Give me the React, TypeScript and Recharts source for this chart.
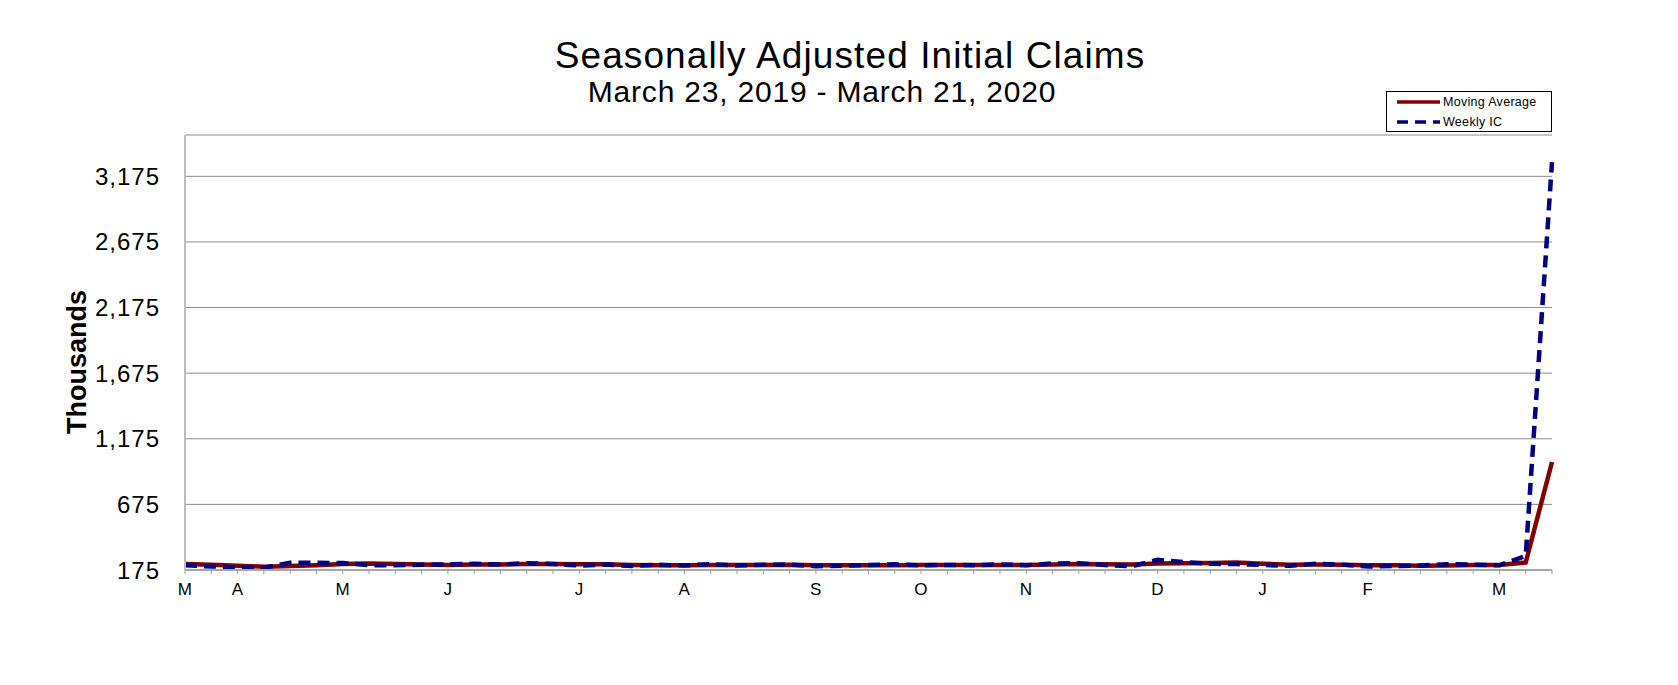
import React from 'react';
import { LineChart, Line, XAxis, YAxis, CartesianGrid, Legend } from 'recharts';

// week ending dates, March 23, 2019 - March 21, 2020
const weekEnding = [
  '3/23/2019', '3/30/2019', '4/6/2019', '4/13/2019', '4/20/2019', '4/27/2019',
  '5/4/2019', '5/11/2019', '5/18/2019', '5/25/2019', '6/1/2019', '6/8/2019',
  '6/15/2019', '6/22/2019', '6/29/2019', '7/6/2019', '7/13/2019', '7/20/2019',
  '7/27/2019', '8/3/2019', '8/10/2019', '8/17/2019', '8/24/2019', '8/31/2019',
  '9/7/2019', '9/14/2019', '9/21/2019', '9/28/2019', '10/5/2019', '10/12/2019',
  '10/19/2019', '10/26/2019', '11/2/2019', '11/9/2019', '11/16/2019', '11/23/2019',
  '11/30/2019', '12/7/2019', '12/14/2019', '12/21/2019', '12/28/2019', '1/4/2020',
  '1/11/2020', '1/18/2020', '1/25/2020', '2/1/2020', '2/8/2020', '2/15/2020',
  '2/22/2020', '2/29/2020', '3/7/2020', '3/14/2020', '3/21/2020',
];

// thousands
const weeklyIC = [
  211, 202, 196, 192, 230, 230, 228, 212, 211, 215, 218, 222,
  216, 227, 221, 209, 216, 206, 215, 209, 220, 209, 215, 217,
  204, 208, 213, 219, 210, 214, 212, 218, 211, 225, 227, 213,
  203, 252, 235, 222, 220, 214, 207, 223, 216, 201, 205, 210,
  219, 216, 211, 282, 3283,
];

const movingAverage = [
  221, 215.75, 207.5, 200.25, 205, 212, 220, 225, 220.25, 216.5, 214, 216.5,
  217.75, 220.75, 221.5, 218.25, 218.25, 213, 211.5, 211.5, 212.5, 213.25, 213.25, 215.25,
  211.25, 211, 210.5, 211, 212.5, 214, 213.75, 213.5, 213.75, 216.5, 220.25, 219,
  217, 223.75, 225.75, 228, 232.25, 222.75, 215.75, 216, 215, 211.75, 211.25, 208,
  208.75, 212.5, 214, 232, 998,
];

const yTicks = [175, 675, 1175, 1675, 2175, 2675, 3175];
const monthInitials = ['J', 'F', 'M', 'A', 'M', 'J', 'J', 'A', 'S', 'O', 'N', 'D'];

const data = weekEnding.map((week, i) => ({ week, ma: movingAverage[i], ic: weeklyIC[i] }));

const FONT = '"Liberation Sans", Arial, sans-serif';
const monthOf = (d: string) => parseInt(d.split('/')[0], 10);

const MonthTick = (props: any) => {
  const { x, y, payload } = props;
  const i = weekEnding.indexOf(payload.value);
  const first = i === 0 || monthOf(weekEnding[i]) !== monthOf(weekEnding[i - 1]);
  if (!first) return null;
  return (
    <text x={x} y={y} dy={19} textAnchor="middle" fontFamily={FONT} fontSize={17} fill="#000" letterSpacing={0.5}>
      {monthInitials[monthOf(payload.value) - 1]}
    </text>
  );
};

const LegendBox = (props: any) => {
  const items = props.payload || [];
  return (
    <svg width={166} height={41} style={{ display: 'block' }}>
      <rect x={0.5} y={0.5} width={165} height={40} fill="#fff" stroke="#000" strokeWidth={1} />
      {items.map((it: any, k: number) => (
        <g key={k}>
          <line
            x1={11}
            x2={54}
            y1={11 + k * 20}
            y2={11 + k * 20}
            stroke={it.color}
            strokeWidth={3.5}
            strokeDasharray={it.dataKey === 'ic' ? '11 7' : undefined}
          />
          <text x={57} y={15 + k * 20} fontFamily={FONT} fontSize={12.5} fill="#000" letterSpacing={0.3}>
            {it.value}
          </text>
        </g>
      ))}
    </svg>
  );
};

export default function App() {
  return (
    <div style={{ position: 'absolute', left: 0, top: 0, width: 1678, height: 685, background: '#fff' }}>
      <LineChart
        width={1678}
        height={685}
        data={data}
        margin={{ top: 135, right: 126, bottom: 85, left: 125 }}
      >
        <CartesianGrid vertical={false} stroke="#8c8c8c" strokeWidth={1} />
        <XAxis
          dataKey="week"
          height={30}
          interval={0}
          tick={<MonthTick />}
          tickSize={4}
          tickLine={{ stroke: '#9a9a9a' }}
          axisLine={{ stroke: '#a8a8a8', strokeWidth: 2 }}
        />
        <XAxis xAxisId="frame" orientation="top" dataKey="week" height={0} tick={false} tickLine={false} axisLine={{ stroke: '#c4c4c4', strokeWidth: 2 }} />
        <YAxis
          width={60}
          domain={[175, 3490]}
          ticks={yTicks}
          tickLine={false}
          tickSize={6}
          tickMargin={19}
          axisLine={{ stroke: '#bdbdbd', strokeWidth: 2 }}
          tickFormatter={(v: number) => v.toLocaleString('en-US')}
          tick={{ fontFamily: FONT, fontSize: 24, fill: '#000', letterSpacing: 1 }}
        />
        <YAxis yAxisId="frame" orientation="right" width={0} tick={false} tickLine={false} axisLine={{ stroke: '#c4c4c4', strokeWidth: 2 }} />
        <Legend
          verticalAlign="middle"
          align="center"
          content={<LegendBox />}
          wrapperStyle={{ top: 91, left: 1386, width: 166, height: 41 }}
        />
        <Line
          name="Moving Average"
          dataKey="ma"
          type="linear"
          stroke="#800000"
          strokeWidth={4.5}
          dot={false}
          activeDot={false}
          isAnimationActive={false}
        />
        <Line
          name="Weekly IC"
          dataKey="ic"
          type="linear"
          stroke="#000080"
          strokeWidth={4.5}
          strokeDasharray="12 7"
          dot={false}
          activeDot={false}
          isAnimationActive={false}
        />
      </LineChart>
      <svg width={1678} height={685} style={{ position: 'absolute', left: 0, top: 0, pointerEvents: 'none' }}>
        <text x={850} y={68} textAnchor="middle" fontFamily={FONT} fontSize={37} fill="#000" letterSpacing={1.1}>
          Seasonally Adjusted Initial Claims
        </text>
        <text x={822} y={102} textAnchor="middle" fontFamily={FONT} fontSize={30} fill="#000" letterSpacing={0.8}>
          March 23, 2019 - March 21, 2020
        </text>
        <text
          x={0}
          y={0}
          transform="translate(86 362) rotate(-90)"
          textAnchor="middle"
          fontFamily={FONT}
          fontSize={27}
          fontWeight="bold"
          fill="#000"
        >
          Thousands
        </text>
      </svg>
    </div>
  );
}
